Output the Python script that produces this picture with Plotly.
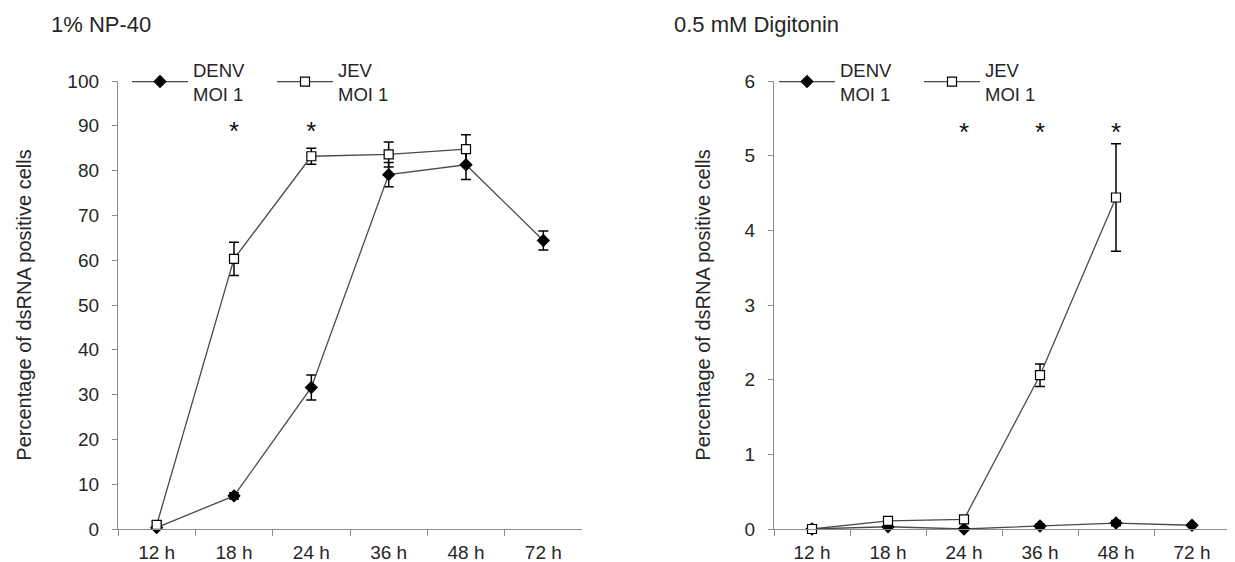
import plotly.graph_objects as go

hours = ["12 h", "18 h", "24 h", "36 h", "48 h", "72 h"]

# 1% NP-40
np40_denv = [0.3, 7.4, 31.6, 79.1, 81.3, 64.4]
np40_denv_err = [0.4, 0.7, 2.8, 2.7, 3.3, 2.1]
np40_jev = [0.9, 60.3, 83.2, 83.6, 84.8, None]
np40_jev_err = [0.8, 3.7, 1.8, 2.8, 3.2, 0]
np40_star_x = ["18 h", "24 h"]
np40_star_y = [88.3, 88.3]

# 0.5 mM Digitonin
dig_denv = [0.0, 0.03, 0.0, 0.04, 0.08, 0.05]
dig_denv_err = [0, 0.02, 0, 0.025, 0.035, 0.015]
dig_jev = [0.0, 0.11, 0.13, 2.06, 4.44, None]
dig_jev_err = [0, 0.03, 0.03, 0.15, 0.72, 0]
dig_star_x = ["24 h", "36 h", "48 h"]
dig_star_y = [5.28, 5.28, 5.28]

FONT = "Liberation Sans, Arial, sans-serif"
LINE = "#4a4a4a"
AXIS = "#8c8c8c"
TXT = "#262626"
# page has an 8px body margin; the figure starts 8px in
OFF = 8
W, H = 1235 - OFF, 562 - OFF


def px(xp):
    return (xp - OFF) / W


def py(yp):
    return (H - (yp - OFF)) / H


fig = go.Figure()


def add_series(x, y, err, name, symbol, fill, xa, ya, legend):
    fig.add_trace(go.Scatter(
        x=x, y=y, name=name, mode="lines+markers",
        xaxis=xa, yaxis=ya, legend=legend, cliponaxis=False,
        line=dict(color=LINE, width=1.3),
        marker=dict(symbol=symbol, size=9, color=fill,
                    line=dict(color="black", width=1.2)),
        error_y=dict(type="data", array=err, visible=True,
                     color="black", thickness=1.5, width=5),
    ))


add_series(hours, np40_denv, np40_denv_err, "DENV<br>MOI 1", "diamond", "black", "x", "y", "legend")
add_series(hours, np40_jev, np40_jev_err, "JEV<br>MOI 1", "square", "white", "x", "y", "legend2")
add_series(hours, dig_denv, dig_denv_err, "DENV<br>MOI 1", "diamond", "black", "x2", "y2", "legend3")
add_series(hours, dig_jev, dig_jev_err, "JEV<br>MOI 1", "square", "white", "x2", "y2", "legend4")

fig.add_trace(go.Scatter(x=np40_star_x, y=np40_star_y, mode="text", text=["*"] * len(np40_star_x),
                         textfont=dict(size=26, color="#111", family=FONT), xaxis="x", yaxis="y",
                         showlegend=False, cliponaxis=False))
fig.add_trace(go.Scatter(x=dig_star_x, y=dig_star_y, mode="text", text=["*"] * len(dig_star_x),
                         textfont=dict(size=26, color="#111", family=FONT), xaxis="x2", yaxis="y2",
                         showlegend=False, cliponaxis=False))

yd = [py(529), py(81)]
xcommon = dict(type="category", categoryorder="array", categoryarray=hours,
               showline=True, linecolor=AXIS, linewidth=1.3, ticks="outside",
               tickson="boundaries", ticklen=6, tickcolor=AXIS, tickwidth=1.3,
               showgrid=False, zeroline=False, range=[-0.5, 5.5], automargin=False,
               ticklabelstandoff=6,
               tickfont=dict(size=19, color=TXT, family=FONT))
ycommon = dict(showline=True, linecolor=AXIS, linewidth=1.3, ticks="outside",
               ticklen=5, tickcolor=AXIS, tickwidth=1.3, showgrid=False, zeroline=False,
               automargin=False, ticklabelstandoff=9,
               tickfont=dict(size=19, color=TXT, family=FONT))


def leg(xp):
    return dict(orientation="h", x=px(xp), y=py(82), xanchor="left", yanchor="middle",
                itemwidth=56, font=dict(size=18.5, color=TXT, family=FONT),
                bgcolor="rgba(0,0,0,0)", itemsizing="trace")


fig.update_layout(
    width=W, height=H,
    margin=dict(l=0, r=0, t=0, b=0, autoexpand=False),
    paper_bgcolor="white", plot_bgcolor="white",
    font=dict(family=FONT, color=TXT),
    xaxis=dict(domain=[px(118), px(582)], anchor="y", **xcommon),
    yaxis=dict(domain=yd, anchor="x", range=[0, 100], dtick=10,
               title=dict(text="Percentage of dsRNA positive cells", standoff=30,
                          font=dict(size=20, color=TXT, family=FONT)), **ycommon),
    xaxis2=dict(domain=[px(774), px(1230)], anchor="y2", **xcommon),
    yaxis2=dict(domain=yd, anchor="x2", range=[0, 6], dtick=1,
                title=dict(text="Percentage of dsRNA positive cells", standoff=28,
                           font=dict(size=20, color=TXT, family=FONT)), **ycommon),
    legend=leg(127),
    legend2=leg(272),
    legend3=leg(774),
    legend4=leg(919),
    annotations=[
        dict(text="1% NP-40", x=px(49), y=py(25), xref="paper", yref="paper",
             xanchor="left", yanchor="middle", showarrow=False,
             font=dict(size=22, color=TXT, family=FONT)),
        dict(text="0.5 mM Digitonin", x=px(672), y=py(25), xref="paper", yref="paper",
             xanchor="left", yanchor="middle", showarrow=False,
             font=dict(size=22, color=TXT, family=FONT)),
    ],
)

fig.write_html("out.html")
